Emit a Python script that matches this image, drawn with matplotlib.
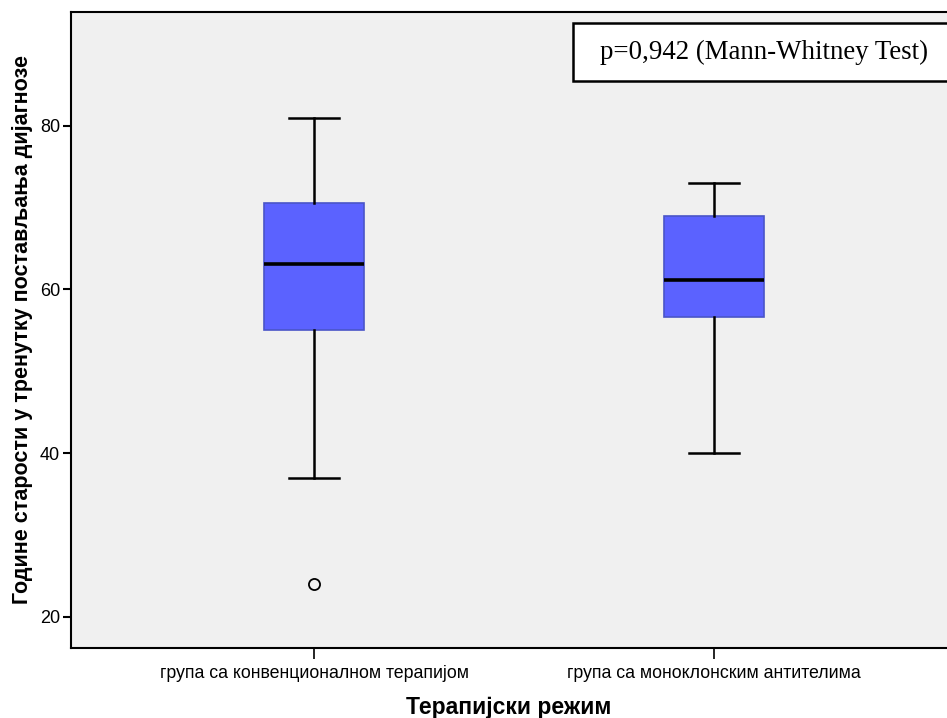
import matplotlib
matplotlib.use("Agg")
import matplotlib.pyplot as plt
from matplotlib.patches import Rectangle

categories = ["група са конвенционалном терапијом", "група са моноклонским антителима"]
whisker_low = [37.0, 40.0]
q1 = [55.0, 56.6]
median = [63.1, 61.1]
q3 = [70.6, 69.0]
whisker_high = [81.0, 73.0]
outliers = [[24.0], []]
y_ticks = [20, 40, 60, 80]

plt.rcParams['font.family'] = ['Liberation Sans', 'DejaVu Sans']

W, H = 947, 718
fig = plt.figure(figsize=(W / 100, H / 100), dpi=100)
ax = fig.add_axes([71 / W, (H - 648) / H, (W - 71) / W, (648 - 12) / H])
ax.set_facecolor('#f0f0f0')

stats = []
for i in range(len(categories)):
    stats.append(dict(med=median[i], q1=q1[i], q3=q3[i], whislo=whisker_low[i],
                      whishi=whisker_high[i], fliers=outliers[i], label=categories[i]))

ax.bxp(stats, positions=range(len(categories)), widths=0.25, patch_artist=True,
       boxprops=dict(facecolor='#5b62ff', edgecolor='#4a55c8', linewidth=1.2),
       medianprops=dict(color='black', linewidth=2.6),
       whiskerprops=dict(color='black', linewidth=1.8),
       capprops=dict(color='black', linewidth=1.8),
       capwidths=0.125,
       flierprops=dict(marker='o', markerfacecolor='none', markeredgecolor='black',
                       markersize=8, markeredgewidth=1.3))

ax.set_xlim(-0.6075, 1.5825)
ax.set_ylim(16.2, 93.9)
ax.set_yticks(y_ticks)
ax.set_yticklabels([str(t) for t in y_ticks], fontsize=13)
ax.set_xticks(range(len(categories)))
ax.set_xticklabels(categories, fontsize=12.8)
ax.tick_params(axis='y', length=6, width=1.5, pad=2)
ax.tick_params(axis='x', length=8, width=1.2, pad=4)
for s in ['left', 'bottom', 'top']:
    ax.spines[s].set_linewidth(1.5)
ax.spines['right'].set_visible(False)

ax.set_ylabel("Године старости у тренутку постављања дијагнозе", fontsize=15.5,
              fontweight='bold', labelpad=5)
ax.set_xlabel("Терапијски режим", fontsize=16.5, fontweight='bold', labelpad=10)

fig.patches.append(Rectangle((573 / W, (H - 81) / H), (W + 20 - 573) / W, 58 / H,
                             transform=fig.transFigure, facecolor='white',
                             edgecolor='black', linewidth=1.8, zorder=5))
fig.text(764 / W, (H - 52) / H, "p=0,942 (Mann-Whitney Test)", fontsize=19.4,
         family=['Liberation Serif', 'DejaVu Serif'], ha='center', va='center',
         zorder=6)

fig.savefig("out.png", dpi=100)
